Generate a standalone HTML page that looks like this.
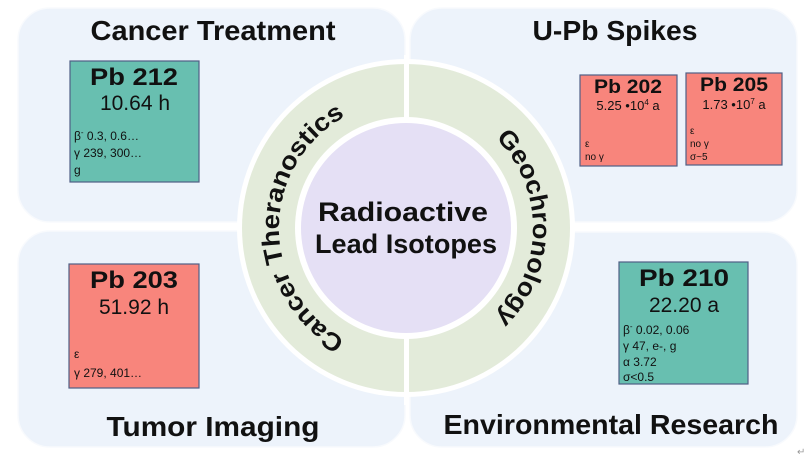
<!DOCTYPE html>
<html><head><meta charset="utf-8"><style>
html,body{margin:0;padding:0;background:#fff;}
svg{display:block;}
text{font-family:"Liberation Sans",sans-serif;}
</style></head><body>
<svg width="808" height="457" viewBox="0 0 808 457" xmlns="http://www.w3.org/2000/svg">
<defs>
<path id="lp" d="M406,355 A127,127 0 0 1 406,101"/>
<path id="rp" d="M406,101 A127,127 0 0 1 406,355"/>
</defs>
<g fill="#edf3fb" stroke="#f8fafd" stroke-width="1.5">
<rect x="18" y="8" width="387" height="214" rx="32"/>
<rect x="410" y="8" width="387" height="214" rx="32"/>
<rect x="18" y="231" width="387" height="216" rx="32"/>
<rect x="410" y="232" width="387" height="215" rx="32"/>
</g>
<circle cx="406" cy="228" r="169" fill="#fff"/>
<circle cx="406" cy="228" r="164" fill="#e3ebda"/>
<rect x="404" y="55" width="5" height="350" fill="#fff"/>
<circle cx="406" cy="228" r="111" fill="#fff"/>
<circle cx="406" cy="228" r="105" fill="#e5e0f5"/>
<g font-weight="bold" fill="#111" text-anchor="middle">
<text x="213" y="40" font-size="28" textLength="245" lengthAdjust="spacingAndGlyphs">Cancer Treatment</text>
<text x="615" y="40" font-size="28" textLength="165" lengthAdjust="spacingAndGlyphs">U-Pb Spikes</text>
<text x="213" y="436" font-size="28" textLength="213" lengthAdjust="spacingAndGlyphs">Tumor Imaging</text>
<text x="611" y="434" font-size="28" textLength="335" lengthAdjust="spacingAndGlyphs">Environmental Research</text>
<text x="403" y="221" font-size="27" textLength="170" lengthAdjust="spacingAndGlyphs">Radioactive</text>
<text x="406" y="253" font-size="27" textLength="182" lengthAdjust="spacingAndGlyphs">Lead Isotopes</text>
<text font-size="25"><textPath href="#lp" startOffset="50%" textLength="272" lengthAdjust="spacingAndGlyphs">Cancer Theranostics</textPath></text>
<text font-size="25"><textPath href="#rp" startOffset="50%" textLength="200" lengthAdjust="spacingAndGlyphs">Geochronology</textPath></text>
</g>
<g stroke="#4f5f86" stroke-width="1.2">
<rect x="70" y="61" width="129" height="121" fill="#68bfb0"/>
<rect x="69" y="264" width="130" height="124" fill="#f8857c"/>
<rect x="580" y="75" width="97" height="91" fill="#f8857c"/>
<rect x="686" y="73" width="96" height="92" fill="#f8857c"/>
<rect x="619" y="262" width="129" height="122" fill="#68bfb0"/>
</g>
<g fill="#111" text-anchor="middle">
<text x="134" y="85" font-size="24" font-weight="bold" textLength="88" lengthAdjust="spacingAndGlyphs">Pb 212</text>
<text x="135" y="110" font-size="21">10.64 h</text>
<text x="134" y="288" font-size="24" font-weight="bold" textLength="88" lengthAdjust="spacingAndGlyphs">Pb 203</text>
<text x="134" y="314" font-size="21">51.92 h</text>
<text x="628" y="93" font-size="19" font-weight="bold" textLength="68" lengthAdjust="spacingAndGlyphs">Pb 202</text>
<text x="628" y="110" font-size="13">5.25 •10<tspan font-size="8" dy="-5">4</tspan><tspan dy="5"> a</tspan></text>
<text x="734" y="91" font-size="19" font-weight="bold" textLength="68" lengthAdjust="spacingAndGlyphs">Pb 205</text>
<text x="734" y="109" font-size="13">1.73 •10<tspan font-size="8" dy="-5">7</tspan><tspan dy="5"> a</tspan></text>
<text x="684" y="286" font-size="24" font-weight="bold" textLength="90" lengthAdjust="spacingAndGlyphs">Pb 210</text>
<text x="684" y="312" font-size="21">22.20 a</text>
</g>
<g fill="#111" font-size="12">
<text x="74" y="140">β<tspan font-size="8" dy="-5">-</tspan><tspan dy="5"> 0.3, 0.6…</tspan></text>
<text x="74" y="157">γ 239, 300…</text>
<text x="74" y="174">g</text>
<text x="74" y="358">ε</text>
<text x="74" y="377">γ  279, 401…</text>
<text x="585" y="147" font-size="10">ε</text>
<text x="585" y="160" font-size="10">no γ</text>
<text x="690" y="134" font-size="10">ε</text>
<text x="690" y="147" font-size="10">no γ</text>
<text x="690" y="160" font-size="10">σ~5</text>
<text x="623" y="334">β<tspan font-size="8" dy="-5">-</tspan><tspan dy="5"> 0.02, 0.06</tspan></text>
<text x="623" y="350">γ 47, e-, g</text>
<text x="623" y="366">α 3.72</text>
<text x="623" y="381">σ&lt;0.5</text>
</g>
<text x="797" y="455" font-size="10" fill="#999">↵</text>
</svg>
</body></html>
